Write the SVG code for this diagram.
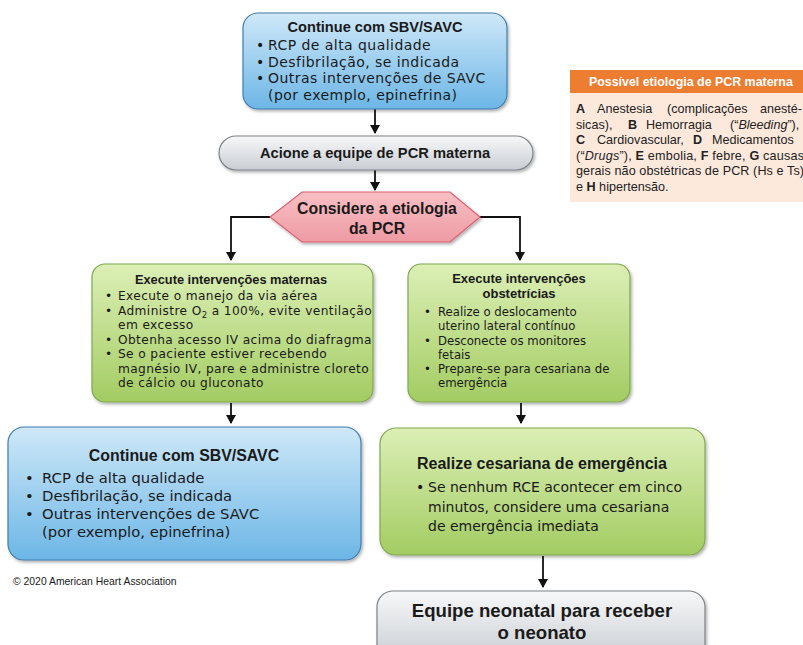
<svg xmlns="http://www.w3.org/2000/svg" width="803" height="645" viewBox="0 0 803 645">
<style>
text{font-family:"Liberation Sans",Arial,sans-serif;fill:#1a1a1a}
.t{font-family:"DejaVu Sans","Liberation Sans",sans-serif}
.b{font-weight:bold}
.blue{fill:url(#gBlue);stroke:#3f7fb0;stroke-width:1.2}
.green{fill:url(#gGreen);stroke:#7fa84f;stroke-width:1.2}
.gray{fill:url(#gGray);stroke:#7d8288;stroke-width:1.2}
.conn{stroke:#111;stroke-width:1.8;fill:none}
.pan{font-size:12.6px;fill:#222}
.hdr{font-size:12.4px;font-weight:bold;fill:#fff}
</style>
<defs>
<linearGradient id="gBlue" x1="0" y1="0" x2="0" y2="1"><stop offset="0" stop-color="#cfe8f8"/><stop offset="1" stop-color="#6cb6e6"/></linearGradient>
<linearGradient id="gGreen" x1="0" y1="0" x2="0" y2="1"><stop offset="0" stop-color="#dcefb6"/><stop offset="1" stop-color="#a3cc62"/></linearGradient>
<linearGradient id="gGray" x1="0" y1="0" x2="0" y2="1"><stop offset="0" stop-color="#f7f8f9"/><stop offset="1" stop-color="#c9cdd2"/></linearGradient>
<linearGradient id="gPink" x1="0" y1="0" x2="0" y2="1"><stop offset="0" stop-color="#f9c0c5"/><stop offset="1" stop-color="#ee9aa3"/></linearGradient>
<filter id="sh" x="-10%" y="-10%" width="120%" height="130%"><feDropShadow dx="1.5" dy="2" stdDeviation="1.5" flood-color="#000" flood-opacity="0.3"/></filter>
<marker id="ar" markerWidth="10" markerHeight="10" refX="8" refY="5" orient="auto" markerUnits="userSpaceOnUse"><path d="M0,0 L9,5 L0,10 Z" fill="#111"/></marker>
</defs>
<rect width="803" height="645" fill="#fff"/>

<g id="connectors">
<line class="conn" x1="375" y1="109" x2="375" y2="133" marker-end="url(#ar)"/>
<line class="conn" x1="375" y1="170" x2="375" y2="190" marker-end="url(#ar)"/>
<polyline class="conn" points="270,217 231,217 231,260" marker-end="url(#ar)"/>
<polyline class="conn" points="480,217 520,217 520,260" marker-end="url(#ar)"/>
<line class="conn" x1="231" y1="403" x2="231" y2="423" marker-end="url(#ar)"/>
<line class="conn" x1="521" y1="403" x2="521" y2="423" marker-end="url(#ar)"/>
<line class="conn" x1="543" y1="556" x2="543" y2="587" marker-end="url(#ar)"/>
</g>

<g id="top-sbv">
<rect class="blue" x="243" y="13" width="264" height="96" rx="15" filter="url(#sh)"/>
<text class="b" x="375" y="32" font-size="14.6" text-anchor="middle">Continue com SBV/SAVC</text>
<g font-size="14" letter-spacing="0.45">
<text class="t" x="256" y="50">•</text><text class="t" x="268" y="50">RCP de alta qualidade</text>
<text class="t" x="256" y="66.5">•</text><text class="t" x="268" y="66.5">Desfibrilação, se indicada</text>
<text class="t" x="256" y="83">•</text><text class="t" x="268" y="83">Outras intervenções de SAVC</text>
<text class="t" x="268" y="99.5">(por exemplo, epinefrina)</text>
</g>
</g>

<g id="acione">
<rect class="gray" x="219" y="136" width="314" height="34" rx="17" filter="url(#sh)"/>
<text class="b" x="375" y="158" font-size="14.7" text-anchor="middle">Acione a equipe de PCR materna</text>
</g>

<g id="considere">
<polygon points="270,217 302,192 450,192 480,217 450,242 302,242" fill="url(#gPink)" stroke="#d9606f" stroke-width="1.2" filter="url(#sh)"/>
<text class="b" x="377" y="214" font-size="15.8" text-anchor="middle">Considere a etiologia</text>
<text class="b" x="377" y="234" font-size="15.8" text-anchor="middle">da PCR</text>
</g>

<g id="maternas">
<rect class="green" x="92" y="264" width="281" height="138" rx="13" filter="url(#sh)"/>
<text class="b" x="231" y="284" font-size="12.8" text-anchor="middle">Execute intervenções maternas</text>
<g font-size="12.2" letter-spacing="0.38">
<text class="t" x="105" y="300">•</text><text class="t" x="118" y="300">Execute o manejo da via aérea</text>
<text class="t" x="105" y="314.5">•</text><text class="t" x="118" y="314.5">Administre O<tspan font-size="8.5" dy="3">2</tspan><tspan dy="-3"> a 100%, evite ventilação</tspan></text>
<text class="t" x="118" y="329">em excesso</text>
<text class="t" x="105" y="343.5">•</text><text class="t" x="118" y="343.5">Obtenha acesso IV acima do diafragma</text>
<text class="t" x="105" y="358">•</text><text class="t" x="118" y="358">Se o paciente estiver recebendo</text>
<text class="t" x="118" y="372.5">magnésio IV, pare e administre cloreto</text>
<text class="t" x="118" y="387">de cálcio ou gluconato</text>
</g>
</g>

<g id="obstetricas">
<rect class="green" x="408" y="264" width="222" height="138" rx="13" filter="url(#sh)"/>
<text class="b" x="519" y="283" font-size="13" text-anchor="middle">Execute intervenções</text>
<text class="b" x="519" y="298" font-size="13" text-anchor="middle">obstetrícias</text>
<g font-size="11.7">
<text class="t" x="424" y="316">•</text><text class="t" x="438" y="316">Realize o deslocamento</text>
<text class="t" x="438" y="330">uterino lateral contínuo</text>
<text class="t" x="424" y="344.5">•</text><text class="t" x="438" y="344.5">Desconecte os monitores</text>
<text class="t" x="438" y="358.5">fetais</text>
<text class="t" x="424" y="373">•</text><text class="t" x="438" y="373">Prepare-se para cesariana de</text>
<text class="t" x="438" y="387">emergência</text>
</g>
</g>

<g id="bottom-sbv">
<rect class="blue" x="8" y="427" width="353" height="133" rx="16" filter="url(#sh)"/>
<text class="b" x="184" y="461" font-size="15.9" text-anchor="middle">Continue com SBV/SAVC</text>
<g font-size="14.8">
<text class="t" x="25" y="483">•</text><text class="t" x="42" y="483">RCP de alta qualidade</text>
<text class="t" x="25" y="501">•</text><text class="t" x="42" y="501">Desfibrilação, se indicada</text>
<text class="t" x="25" y="519">•</text><text class="t" x="42" y="519">Outras intervenções de SAVC</text>
<text class="t" x="42" y="537">(por exemplo, epinefrina)</text>
</g>
</g>

<g id="cesariana">
<rect class="green" x="380" y="428" width="325" height="127" rx="16" filter="url(#sh)"/>
<text class="b" x="417" y="469" font-size="16">Realize cesariana de emergência</text>
<g font-size="14">
<text class="t" x="416" y="492">•</text><text class="t" x="428" y="492">Se nenhum RCE acontecer em cinco</text>
<text class="t" x="428" y="512">minutos, considere uma cesariana</text>
<text class="t" x="428" y="531">de emergência imediata</text>
</g>
</g>

<g id="neonatal">
<rect class="gray" x="377" y="591" width="328" height="70" rx="16" filter="url(#sh)"/>
<text class="b" x="542" y="617" font-size="18.6" text-anchor="middle">Equipe neonatal para receber</text>
<text class="b" x="542" y="639" font-size="18.6" text-anchor="middle">o neonato</text>
</g>

<text x="13" y="585" font-size="10.4">© 2020 American Heart Association</text>

<g id="etiologia-panel">
<rect x="570" y="70" width="233" height="23" fill="#ed7d31"/>
<rect x="570" y="93" width="233" height="109" fill="#fde9dc"/>
<text class="hdr" x="589" y="86">Possível etiologia de PCR materna</text>
<text class="pan" y="113"><tspan x="576" font-weight="bold">A</tspan><tspan x="597">Anestesia</tspan><tspan x="667">(complicações</tspan><tspan x="760">anesté-</tspan></text>
<text class="pan" y="128.5"><tspan x="576">sicas),</tspan><tspan x="628" font-weight="bold">B</tspan><tspan x="646">Hemorragia</tspan><tspan x="730">(“<tspan font-style="italic">Bleeding</tspan>”),</tspan></text>
<text class="pan" y="144"><tspan x="576" font-weight="bold">C</tspan><tspan x="597">Cardiovascular,</tspan><tspan x="693" font-weight="bold">D</tspan><tspan x="712">Medicamentos</tspan></text>
<text class="pan" x="576" y="159.5" textLength="228" lengthAdjust="spacing">(“<tspan font-style="italic">Drugs</tspan>”), <tspan font-weight="bold">E</tspan> embolia, <tspan font-weight="bold">F</tspan> febre, <tspan font-weight="bold">G</tspan> causas</text>
<text class="pan" x="576" y="175" textLength="228" lengthAdjust="spacing">gerais não obstétricas de PCR (Hs e Ts)</text>
<text class="pan" x="576" y="190.5">e <tspan font-weight="bold">H</tspan> hipertensão.</text>
</g>
</svg>
